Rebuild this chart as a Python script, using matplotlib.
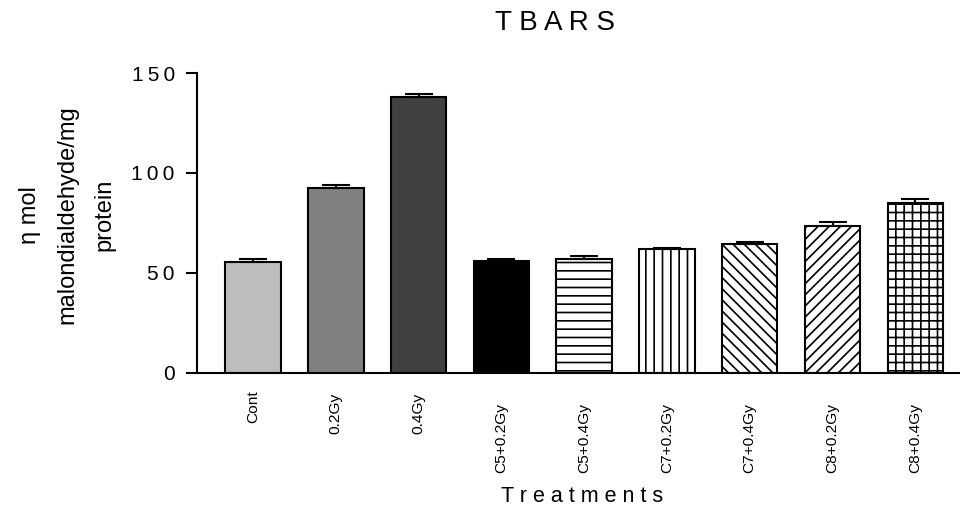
import matplotlib
matplotlib.use("Agg")
import matplotlib.pyplot as plt
import matplotlib.transforms as mtransforms
from matplotlib import font_manager
import numpy as np

categories = ["Cont", "0.2Gy", "0.4Gy", "C5+0.2Gy", "C5+0.4Gy",
              "C7+0.2Gy", "C7+0.4Gy", "C8+0.2Gy", "C8+0.4Gy"]
values = [55.5, 92.5, 138.0, 56.0, 57.0, 62.0, 64.7, 73.5, 85.0]
errors = [1.5, 1.5, 1.5, 1.2, 1.5, 0.6, 0.6, 2.0, 2.2]
yticks = [0, 50, 100, 150]

facecolors = ["#bdbdbd", "#808080", "#404040", "#000000", "white",
              "white", "white", "white", "white"]
hatches = [None, None, None, None, "--", "||", "\\\\\\", "///", "++"]

plt.rcParams['font.family'] = ['Liberation Sans', 'DejaVu Sans']
plt.rcParams['hatch.linewidth'] = 1.2

# narrow font for rotated tick labels if available
try:
    font_manager.findfont(font_manager.FontProperties(family="Liberation Sans Narrow"),
                          fallback_to_default=False)
    tick_family = ["Liberation Sans Narrow", "Liberation Sans"]
except Exception:
    tick_family = ["Liberation Sans", "DejaVu Sans"]
tick_size = 12

W, H = 960, 508
fig = plt.figure(figsize=(W / 100, H / 100), dpi=100)
ax = fig.add_axes([197 / W, 1 - 373 / H, 1 - 197 / W, 300 / H])

x = np.arange(len(categories))
for i in range(len(categories)):
    ax.bar(x[i], values[i], width=0.67, color=facecolors[i],
           edgecolor="black", linewidth=1.5, hatch=hatches[i], zorder=2)
ax.errorbar(x, values, yerr=[np.zeros(len(errors)), errors], fmt="none",
            ecolor="black", elinewidth=1.5, capsize=10, capthick=1.5, zorder=3)

ax.set_xlim(-0.677, 8.54)
ax.set_ylim(0, 150)
ax.set_yticks(yticks)
ax.set_yticklabels(["\u2009".join(str(v)) for v in yticks], fontsize=15)
ax.set_xticks(x)
ax.set_xticklabels([])
ax.tick_params(axis="x", length=0)
ax.tick_params(axis="y", length=8, width=1.5, pad=8)

for s in ["top", "right"]:
    ax.spines[s].set_visible(False)
ax.spines["left"].set_linewidth(1.5)
ax.spines["bottom"].set_linewidth(1.5)

# rotated category labels
trans = mtransforms.blended_transform_factory(ax.transData, ax.transAxes)
labels = []
for i, c in enumerate(categories):
    t = ax.text(x[i], 0, c, rotation=90, ha="center", va="center",
                transform=trans, fontsize=tick_size, family=tick_family)
    labels.append(t)
fig.canvas.draw()
r = fig.canvas.get_renderer()
longest = max(t.get_window_extent(r).height for t in labels)
scale = 70.0 / longest
for t in labels:
    t.set_fontsize(tick_size * scale)
fig.canvas.draw()
for t in labels:
    h = t.get_window_extent(r).height
    center_px = 379 + 0.84 * h          # pixels from top of figure
    t.set_y((373 - center_px) / 300)

fig.text(555 / W, 1 - 23 / H, "T B A R S", fontsize=20, ha="center", va="center")
ax.set_xlabel("T r e a t m e n t s", fontsize=15.5, va="center")
ax.xaxis.set_label_coords((582 - 197) / (W - 197), (373 - 496) / 300)
ax.set_ylabel("η mol\nmalondialdehyde/mg\nprotein", fontsize=17,
              linespacing=1.9, va="center")
ax.yaxis.set_label_coords((67 - 197) / (W - 197), (373 - 215) / 300)

fig.savefig("out.png", dpi=100)
